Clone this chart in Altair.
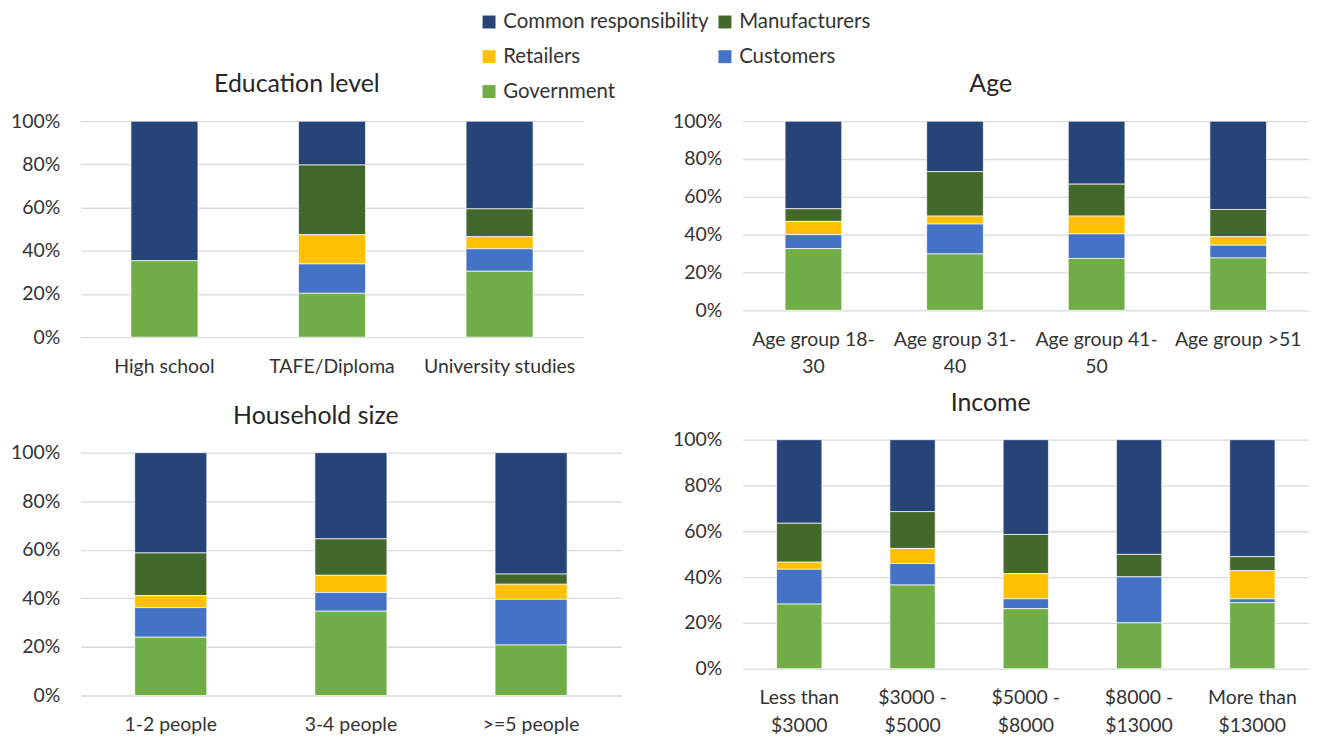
import altair as alt
import pandas as pd

# ---------------- data ----------------
series = ["Common responsibility", "Manufacturers", "Retailers", "Customers", "Government"]
colors = ["#264478", "#43682b", "#ffc000", "#4472c4", "#70ad47"]
stack_rank = [4, 3, 2, 1, 0]  # Government at the bottom
# legend is filled column by column: this order gives the reference's row-by-row reading
legend_order = ["Common responsibility", "Retailers", "Government", "Manufacturers", "Customers"]

edu_cats = ["High school", "TAFE/Diploma", "University studies"]
edu_common = [64.6, 20.3, 40.6]
edu_man = [0.0, 32.3, 12.9]
edu_ret = [0.0, 13.5, 5.6]
edu_cust = [0.0, 13.6, 10.4]
edu_gov = [35.4, 20.3, 30.5]

age_cats = ["Age group 18-\n30", "Age group 31-\n40", "Age group 41-\n50", "Age group >51"]
age_common = [46.3, 26.7, 33.3, 46.7]
age_man = [6.7, 23.5, 16.9, 14.4]
age_ret = [7.0, 4.2, 9.4, 4.5]
age_cust = [7.4, 15.8, 13.0, 6.7]
age_gov = [32.6, 29.8, 27.4, 27.7]

hh_cats = ["1-2 people", "3-4 people", ">=5 people"]
hh_common = [41.3, 35.5, 50.0]
hh_man = [17.6, 15.0, 4.2]
hh_ret = [4.9, 7.1, 6.2]
hh_cust = [12.2, 7.7, 18.8]
hh_gov = [24.0, 34.7, 20.8]

inc_cats = ["Less than\n$3000", "$3000 -\n$5000", "$5000 -\n$8000", "$8000 -\n$13000", "More than\n$13000"]
inc_common = [36.5, 31.4, 41.4, 50.1, 51.1]
inc_man = [17.0, 16.1, 17.1, 9.8, 6.1]
inc_ret = [3.1, 6.6, 11.0, 0.0, 12.3]
inc_cust = [15.2, 9.4, 4.3, 20.1, 1.7]
inc_gov = [28.2, 36.5, 26.2, 20.0, 28.8]


def long_df(cats, cols):
    rows = []
    for s, r, vals in zip(series, stack_rank, cols):
        for c, v in zip(cats, vals):
            if v > 0:
                rows.append({"cat": c, "series": s, "rank": r, "value": v})
    return pd.DataFrame(rows)


edu_df = long_df(edu_cats, [edu_common, edu_man, edu_ret, edu_cust, edu_gov])
age_df = long_df(age_cats, [age_common, age_man, age_ret, age_cust, age_gov])
hh_df = long_df(hh_cats, [hh_common, hh_man, hh_ret, hh_cust, hh_gov])
inc_df = long_df(inc_cats, [inc_common, inc_man, inc_ret, inc_cust, inc_gov])

legend_colors = [colors[series.index(s)] for s in legend_order]

FONT = "Lato"
TXT = "#333333"


def panel(df, title, cats, w, h, legend=None):
    return (
        alt.Chart(df, title=alt.TitleParams(title, fontSize=25, font=FONT, fontWeight="normal",
                                            color="#262626", anchor="middle", frame="bounds",
                                            offset=14))
        .mark_bar(stroke="white", strokeWidth=0.7)
        .encode(
            x=alt.X("cat:N", sort=cats,
                    scale=alt.Scale(paddingInner=0.6, paddingOuter=0.3),
                    axis=alt.Axis(title=None, labelAngle=0, ticks=False, tickSize=0, domain=False,
                                  grid=False, labelExpr="split(datum.label, '\\n')",
                                  labelFont=FONT, labelFontSize=19.5, labelColor=TXT,
                                  labelPadding=20, labelLineHeight=28, labelOverlap=False)),
            y=alt.Y("value:Q", stack="normalize", scale=alt.Scale(domain=[0, 1]),
                    axis=alt.Axis(title=None, format=".0%", values=[0, 0.2, 0.4, 0.6, 0.8, 1.0],
                                  ticks=False, domain=False, grid=True, gridColor="#d9d9d9",
                                  gridWidth=1.3, labelFont=FONT, labelFontSize=19.5,
                                  labelColor=TXT, labelPadding=21)),
            color=alt.Color("series:N", scale=alt.Scale(domain=legend_order, range=legend_colors),
                            legend=legend),
            order=alt.Order("rank:Q"),
        )
        .properties(width=w, height=h)
    )


legend = alt.Legend(title=None, orient="none", legendX=400, legendY=-110, columns=2,
                    symbolType="square", symbolSize=169, symbolStrokeWidth=0,
                    labelFont=FONT, labelFontSize=20.5, labelColor=TXT, labelLimit=400,
                    rowPadding=14, columnPadding=6, labelOffset=4)

edu = panel(edu_df, "Education level", edu_cats, 505, 217, legend)
age = panel(age_df, "Age", age_cats, 569, 190, legend)
hh = panel(hh_df, "Household size", hh_cats, 543, 244, legend)
inc = panel(inc_df, "Income", inc_cats, 569, 230, legend)

left = alt.vconcat(edu, hh, spacing=28)
right = alt.vconcat(age, inc, spacing=14)

chart = (
    alt.hconcat(left, right, spacing=51)
    .properties(padding={"left": 2, "top": 2, "right": 0, "bottom": 0})
    .configure_view(stroke=None)
)

chart.save("out.html", embed_options={"renderer": "svg", "actions": False})
